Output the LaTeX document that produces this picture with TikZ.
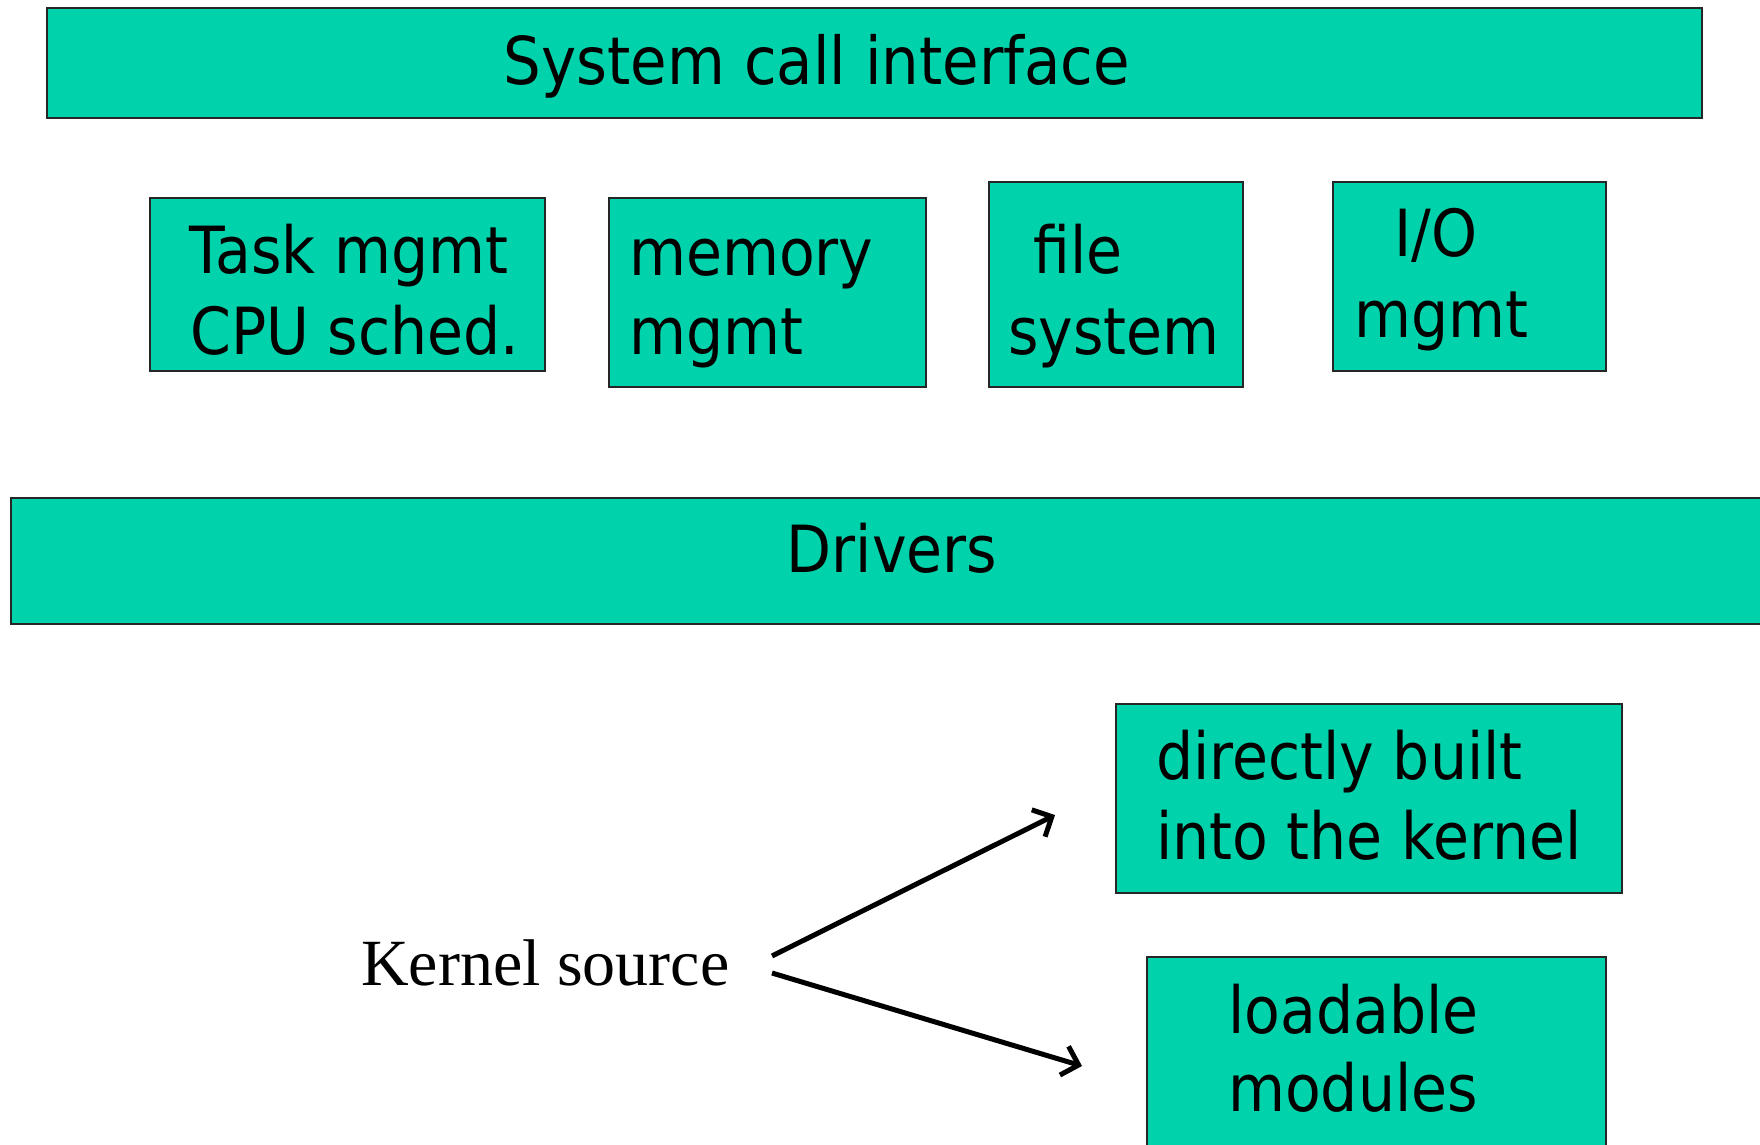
\documentclass[tikz,border=0pt]{standalone}
\usepackage{fontspec}
\usetikzlibrary{arrows.meta}
\newfontfamily\tahf{DejaVu Sans}[FakeStretch=0.9]
\setmainfont{Liberation Serif}
\definecolor{boxgreen}{RGB}{0,211,172}
\tikzset{
  greenbox/.style={draw=black!85, line width=1.6pt, fill=boxgreen, inner sep=0pt, outer sep=0pt, anchor=north west},
  boxtext/.style={inner sep=0pt, anchor=base west, font=\tahf\fontsize{65}{78}\selectfont},
  srctext/.style={inner sep=0pt, anchor=base west, font=\fontsize{66}{78}\selectfont},
  arr/.style={line width=5pt, -{Straight Barb[length=15pt,width=30pt,line width=5pt]}}
}
\begin{document}
\begin{tikzpicture}[x=1pt,y=-1pt]
\useasboundingbox (0,0) rectangle (1760,1144);
\clip (0,0) rectangle (1760,1144);
\fill[white] (0,0) rectangle (1760,1144);
% boxes
\node[greenbox, minimum width=1655pt, minimum height=110pt] (sys) at (47,8) {};
\node[greenbox, minimum width=395pt, minimum height=173pt] (task) at (150,198) {};
\node[greenbox, minimum width=317pt, minimum height=189pt] (mem) at (609,198) {};
\node[greenbox, minimum width=254pt, minimum height=205pt] (fs) at (989,182) {};
\node[greenbox, minimum width=273pt, minimum height=189pt] (io) at (1333,182) {};
\node[greenbox, minimum width=1780pt, minimum height=126pt] (drv) at (11,498) {};
\node[greenbox, minimum width=506pt, minimum height=189pt] (built) at (1116,704) {};
\node[greenbox, minimum width=459pt, minimum height=220pt] (load) at (1147,957) {};
% texts
\node[boxtext, anchor=base, font=\tahf\fontsize{66}{78}\selectfont] (tsys) at (817,84) {System call interface};
\node[boxtext] (t1a) at (189,273) {Task mgmt};
\node[boxtext] (t1b) at (190,354) {CPU sched.};
\node[boxtext] (t2a) at (629,275) {memory};
\node[boxtext] (t2b) at (629,354) {mgmt};
\node[boxtext] (t3a) at (1033,273) {file};
\node[boxtext] (t3b) at (1008,354) {system};
\node[boxtext] (t4a) at (1394,256) {I/O};
\node[boxtext] (t4b) at (1354,337) {mgmt};
\node[boxtext, anchor=base] (tdrv) at (892,572) {Drivers};
\node[boxtext] (t5a) at (1156,779) {directly built};
\node[boxtext] (t5b) at (1156,859) {into the kernel};
\node[boxtext] (t6a) at (1228,1033) {loadable};
\node[boxtext] (t6b) at (1228,1111) {modules};
\node[srctext] (ks) at (361,985) {Kernel source};
% arrows
\coordinate (a1s) at (772,956);
\coordinate (a1e) at (1055,815);
\coordinate (a2s) at (772,973);
\coordinate (a2e) at (1082,1066);
\draw[arr] (a1s) -- (a1e);
\draw[arr] (a2s) -- (a2e);
\end{tikzpicture}
\end{document}
